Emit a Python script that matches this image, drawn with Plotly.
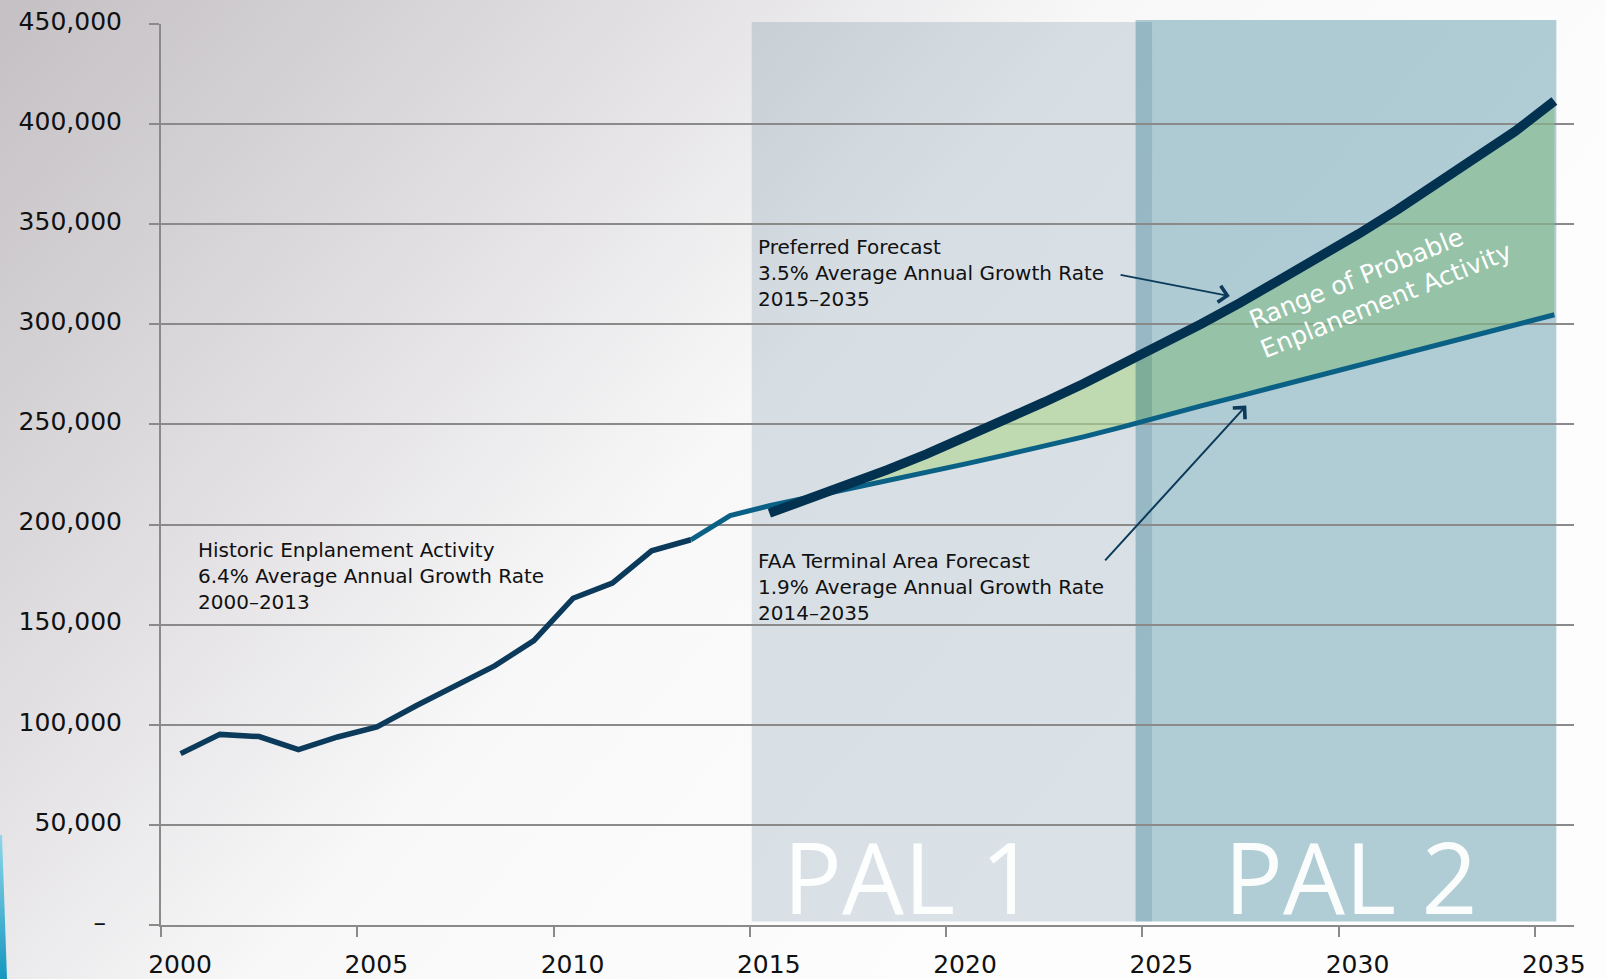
import base64
import numpy as np
import plotly.graph_objects as go

# ---------------- data ----------------
hist_years = [2000, 2001, 2002, 2003, 2004, 2005, 2006, 2007, 2008, 2009, 2010, 2011, 2012, 2013]
hist_vals = [85600, 95200, 94100, 87600, 93900, 98900, 109500, 119400, 129400, 142000,
             163200, 170800, 186900, 192400]

faa_years = list(range(2014, 2036))
faa_vals = [204500, 209400, 213500, 217700, 221900, 226100, 230300, 234700, 239100, 243800,
            248800, 254200, 259300, 264300, 269300, 274300, 279500, 284600, 289700, 294800,
            299800, 304800]

pref_years = list(range(2015, 2036))
pref_vals = [205700, 212500, 219800, 227300, 235200, 243600, 252200, 261100, 270300, 279900,
             290000, 300200, 310800, 321800, 333200, 345000, 357200, 369800, 382800, 396400,
             411500]

pal_names = ["PAL 1", "PAL 2"]
pal_start = [2015.05, 2024.83]
pal_end = [2025.25, 2035.55]

x_ticks = [2000, 2005, 2010, 2015, 2020, 2025, 2030, 2035]
y_ticks = [0, 50000, 100000, 150000, 200000, 250000, 300000, 350000, 400000, 450000]
y_ticktext = ["\u2013\u00a0\u00a0", "50,000", "100,000", "150,000", "200,000", "250,000",
              "300,000", "350,000", "400,000", "450,000"]

# ---------------- layout geometry ----------------
W, H = 1606, 979
ML, MR, MT, MB = 161, 32, 24, 54
PW, PH = W - ML - MR, H - MT - MB

NAVY = "#0b3a5b"
DARK = "#033150"
TEAL = "#0a6085"
GRID = "#8a8a8a"
FONT = "DejaVu Sans"

# mid-year plotting positions
hx = np.array(hist_years) + 0.5
fx = np.array(faa_years) + 0.5
px = np.array(pref_years) + 0.5
hv = np.array(hist_vals, dtype=float)
fv = np.array(faa_vals, dtype=float)
pv = np.array(pref_vals, dtype=float)

fig = go.Figure()

# ---------- green range fill, split by PAL bands ----------
bounds = [px[0], pal_start[1], pal_end[0], px[-1]]
fills = ["rgba(175,212,141,0.6)", "rgba(110,165,127,0.6)", "rgba(134,189,139,0.6)"]
for i in range(3):
    a, b = bounds[i], bounds[i + 1]
    xs = np.unique(np.concatenate([[a, b], px[(px > a) & (px < b)]]))
    lo = np.interp(xs, fx, fv)
    up = np.maximum(np.interp(xs, px, pv), lo)
    fig.add_trace(go.Scatter(x=xs, y=lo, mode="lines", line=dict(width=0),
                             hoverinfo="skip", showlegend=False))
    fig.add_trace(go.Scatter(x=xs, y=up, mode="lines", line=dict(width=0),
                             fill="tonexty", fillcolor=fills[i],
                             hoverinfo="skip", showlegend=False))

# ---------- lines ----------
fig.add_trace(go.Scatter(x=np.concatenate([hx[-1:], fx]), y=np.concatenate([hv[-1:], fv]),
                         mode="lines", line=dict(color=TEAL, width=5),
                         name="FAA Terminal Area Forecast", showlegend=False))
fig.add_trace(go.Scatter(x=hx, y=hv, mode="lines", line=dict(color=NAVY, width=5.5),
                         name="Historic", showlegend=False))
fig.add_trace(go.Scatter(x=px, y=pv, mode="lines", line=dict(color=DARK, width=9.5),
                         name="Preferred Forecast", showlegend=False))

# ---------- PAL bands ----------
shapes = [
    dict(type="rect", xref="x", yref="paper", x0=pal_start[0], x1=pal_end[0],
         y0=3.5 / PH, y1=1 + 2 / PH, fillcolor="rgba(50,95,125,0.17)",
         line=dict(width=0), layer="between"),
    dict(type="rect", xref="x", yref="paper", x0=pal_start[1], x1=pal_end[1],
         y0=3.5 / PH, y1=1 + 4 / PH, fillcolor="rgba(0,92,118,0.30)",
         line=dict(width=0), layer="between"),
]

# ---------- background (gradient) ----------
svg = f'''<svg xmlns="http://www.w3.org/2000/svg" width="{W}" height="{H}" viewBox="0 0 {W} {H}" preserveAspectRatio="none">
<defs>
<linearGradient id="g" gradientUnits="userSpaceOnUse" x1="0" y1="0" x2="1000" y2="870">
<stop offset="0" stop-color="rgb(196,192,196)"/>
<stop offset="0.4" stop-color="rgb(228,226,228)"/>
<stop offset="0.63" stop-color="rgb(248,248,249)"/>
<stop offset="1" stop-color="rgb(253,253,254)"/>
</linearGradient>
<linearGradient id="b" x1="0" y1="0" x2="0" y2="1">
<stop offset="0" stop-color="#8fd6ea"/><stop offset="1" stop-color="#1597c0"/>
</linearGradient>
</defs>
<rect width="{W}" height="{H}" fill="url(#g)"/>
<polygon points="0,835 2,835 7,979 0,979" fill="url(#b)"/>
</svg>'''
uri = "data:image/svg+xml;base64," + base64.b64encode(svg.encode()).decode()

images = [dict(source=uri, xref="paper", yref="paper", x=-ML / PW, y=1 + MT / PH,
               sizex=W / PW, sizey=H / PH, xanchor="left", yanchor="top",
               sizing="stretch", layer="below")]

# ---------- annotations ----------
txt_font = dict(family=FONT, size=20, color="#111111")
range_font = dict(family=FONT, size=25, color="white")
ann = [
    dict(x=2000.88, y=174400, xref="x", yref="y", xanchor="left", yanchor="middle", align="left",
         showarrow=False, font=txt_font,
         text="Historic Enplanement Activity<br>6.4% Average Annual Growth Rate<br>2000\u20132013"),
    dict(x=2015.16, y=325600, xref="x", yref="y", xanchor="left", yanchor="middle", align="left",
         showarrow=False, font=txt_font,
         text="Preferred Forecast<br>3.5% Average Annual Growth Rate<br>2015\u20132035"),
    dict(x=2015.16, y=168700, xref="x", yref="y", xanchor="left", yanchor="middle", align="left",
         showarrow=False, font=txt_font,
         text="FAA Terminal Area Forecast<br>1.9% Average Annual Growth Rate<br>2014\u20132035"),
    dict(x=2027.23, y=314100, ax=2024.41, ay=324850, xref="x", yref="y", axref="x", ayref="y",
         text="", showarrow=True, arrowhead=4, arrowsize=1.6, arrowwidth=2, arrowcolor=NAVY),
    dict(x=2027.65, y=259400, ax=2024.02, ay=181400, xref="x", yref="y", axref="x", ayref="y",
         text="", showarrow=True, arrowhead=4, arrowsize=1.6, arrowwidth=2, arrowcolor=NAVY),
    dict(x=2030.44, y=323100, xref="x", yref="y", xanchor="center", yanchor="middle",
         showarrow=False, textangle=-22, font=range_font, text="Range of Probable"),
    dict(x=2031.20, y=312100, xref="x", yref="y", xanchor="center", yanchor="middle",
         showarrow=False, textangle=-22, font=range_font, text="Enplanement Activity"),
    dict(x=2019.09, y=24500, xref="x", yref="y", xanchor="center", yanchor="middle",
         showarrow=False, font=dict(family="Open Sans", size=98, color="rgba(255,255,255,0.95)"),
         text=pal_names[0]),
    dict(x=2030.31, y=24500, xref="x", yref="y", xanchor="center", yanchor="middle",
         showarrow=False, font=dict(family="Open Sans", size=98, color="rgba(255,255,255,0.95)"),
         text=pal_names[1]),
]

fig.update_layout(
    width=W, height=H, autosize=False,
    margin=dict(l=ML, r=MR, t=MT, b=MB, pad=0, autoexpand=False),
    paper_bgcolor="white",
    plot_bgcolor="rgba(0,0,0,0)",
    shapes=shapes, images=images, annotations=ann,
    showlegend=False,
    xaxis=dict(range=[2000, 2036], tickvals=x_ticks, ticks="outside", ticklen=10, tickwidth=2,
               tickcolor=GRID, showline=True, linecolor=GRID, linewidth=2, showgrid=False,
               zeroline=False, tickfont=dict(family=FONT, size=25, color="#111111"),
               ticklabelshift=19, ticklabelstandoff=6, automargin=False),
    yaxis=dict(range=[0, 450000], tickvals=y_ticks, ticktext=y_ticktext, ticks="outside",
               ticklen=10, tickwidth=2, tickcolor=GRID, showline=True, linecolor=GRID,
               linewidth=2, showgrid=True, gridcolor=GRID, gridwidth=2, zeroline=False,
               tickfont=dict(family=FONT, size=25, color="#111111"),
               ticklabelstandoff=22, ticklabelshift=-3, automargin=False),
)

fig.write_html("out.html", config={"displayModeBar": False},
               post_script="document.body.style.margin='0';document.body.style.overflow='hidden';")
